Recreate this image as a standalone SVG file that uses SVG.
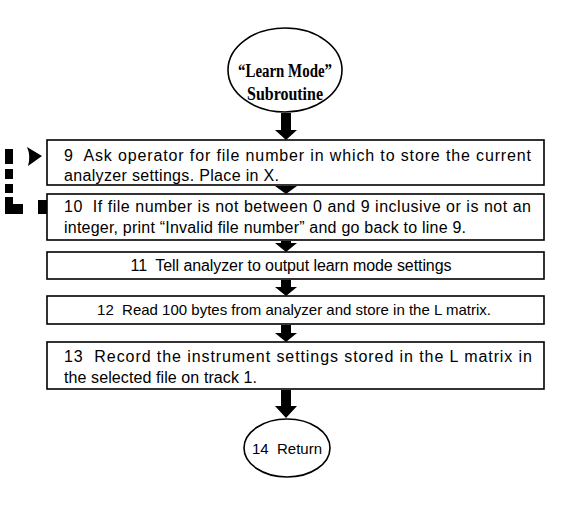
<svg xmlns="http://www.w3.org/2000/svg" width="575" height="507" viewBox="0 0 575 507">
<defs>
<style>
.b{fill:#fff;stroke:#000;stroke-width:1.6}
.t{font-family:"Liberation Sans","DejaVu Sans",sans-serif;font-size:16px;fill:#000;white-space:pre}
.h{font-family:"Liberation Serif","DejaVu Serif",serif;font-size:18px;font-weight:bold;fill:#000}
.sh{fill:#000}
</style>
</defs>
<rect width="575" height="507" fill="#fff"/>
<g id="start">
<ellipse class="b" cx="285" cy="70" rx="57" ry="42"/>
<text class="h" x="285" y="77" text-anchor="middle" textLength="94" lengthAdjust="spacingAndGlyphs">“Learn Mode”</text>
<text class="h" x="285" y="100" text-anchor="middle" textLength="76" lengthAdjust="spacingAndGlyphs">Subroutine</text>
</g>
<g id="n9">
<rect class="b" x="47" y="140" width="497" height="45"/>
<text class="t" x="64" y="161" textLength="467">9  Ask operator for file number in which to store the current</text>
<text class="t" x="64" y="181" textLength="215">analyzer settings. Place in X.</text>
</g>
<g id="n10">
<rect class="b" x="47" y="194" width="497" height="46"/>
<text class="t" x="64" y="212" textLength="467">10  If file number is not between 0 and 9 inclusive or is not an</text>
<text class="t" x="64" y="233" textLength="402">integer, print “Invalid file number” and go back to line 9.</text>
</g>
<g id="n11">
<rect class="b" x="47" y="252" width="497" height="27"/>
<text class="t" x="291" y="271" text-anchor="middle" textLength="321">11  Tell analyzer to output learn mode settings</text>
</g>
<g id="n12">
<rect class="b" x="47" y="296" width="497" height="28"/>
<text class="t" x="294" y="315" text-anchor="middle" style="font-size:15px">12  Read 100 bytes from analyzer and store in the L matrix.</text>
</g>
<g id="n13">
<rect class="b" x="47" y="342" width="497" height="47"/>
<text class="t" x="64" y="362" textLength="468">13  Record the instrument settings stored in the L matrix in</text>
<text class="t" x="64" y="383" textLength="193">the selected file on track 1.</text>
</g>
<g id="end">
<ellipse class="b" cx="287" cy="448" rx="43" ry="29"/>
<text class="t" x="287" y="454" text-anchor="middle" style="font-size:15px">14  Return</text>
</g>
<g id="connectors">
<path class="sh" d="M281,113 h10 v17 h6 l-11,10 l-11,-10 h6 z"/>
<path class="sh" d="M281,186 h10 v0 h6 l-11,8 l-11,-8 h6 z"/>
<path class="sh" d="M281,241 h10 v2 h6 l-11,9 l-11,-9 h6 z"/>
<path class="sh" d="M281,280 h10 v7 h6 l-11,9 l-11,-9 h6 z"/>
<path class="sh" d="M281,325 h10 v8 h6 l-11,9 l-11,-9 h6 z"/>
<path class="sh" d="M281,390 h10 v16 h6 l-11,12 l-11,-12 h6 z"/>
<g id="feedback" class="sh">
<rect x="38" y="200" width="9" height="14"/>
<path d="M5,197 h8 v7 h10 v10 h-18 z"/>
<rect x="5" y="184" width="8" height="9"/>
<rect x="5" y="169" width="8" height="10"/>
<rect x="5" y="149" width="8" height="15"/>
<path d="M27,147 Q31,156 28,166 L42,156 z"/>
</g>
</g>
</svg>
